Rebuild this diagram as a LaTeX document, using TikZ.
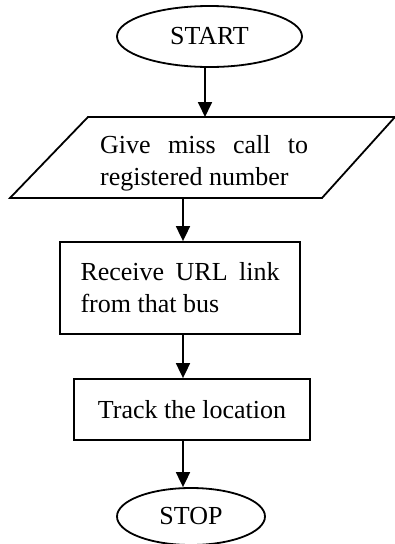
\documentclass[tikz,border=0pt]{standalone}
\usepackage{fontspec}
\setmainfont{Liberation Serif}
\usetikzlibrary{arrows.meta,shapes.geometric}
\begin{document}
\begin{tikzpicture}[x=1pt,y=-1pt,
  every node/.style={font=\fontsize{26}{32}\selectfont, text=black},
  line/.style={line width=1.8pt, line join=miter},
  term/.style={ellipse, draw, line width=1.8pt, inner sep=0pt},
  proc/.style={rectangle, draw, line width=1.8pt, inner sep=0pt},
  arr/.style={line width=1.8pt, -{Triangle[length=15pt,width=14pt]}}]
\useasboundingbox (0,0) rectangle (395,544);
% START
\node[term, minimum width=185pt, minimum height=61pt] (start) at (209.5,36.5) {START};
% parallelogram
\coordinate (pTL) at (88,117);
\coordinate (pTR) at (395,117);
\coordinate (pBR) at (322,198);
\coordinate (pBL) at (10,198);
\draw[line] (pTL) -- (pTR) -- (pBR) -- (pBL) -- cycle;
\node[text width=208pt, align=justify, inner sep=0pt, anchor=base west] (give) at (100,153) {Give miss call to registered number};
\coordinate (pin) at (205,117);
\coordinate (pout) at (183,198);
% process 1
\node[proc, minimum width=240pt, minimum height=92pt, text width=199pt, align=justify] (recv) at (180,288) {Receive URL link from that bus};
% process 2
\node[proc, minimum width=236pt, minimum height=61pt] (track) at (192,409.5) {Track the location};
% STOP
\node[term, minimum width=148pt, minimum height=57pt] (stop) at (191,516.5) {STOP};
% arrows
\draw[arr] (start.south -| pin) -- (pin);
\draw[arr] (pout) -- (recv.north -| pout);
\draw[arr] (recv.south -| pout) -- (track.north -| pout);
\draw[arr] (track.south -| pout) -- (stop.north -| pout);
\end{tikzpicture}
\end{document}
